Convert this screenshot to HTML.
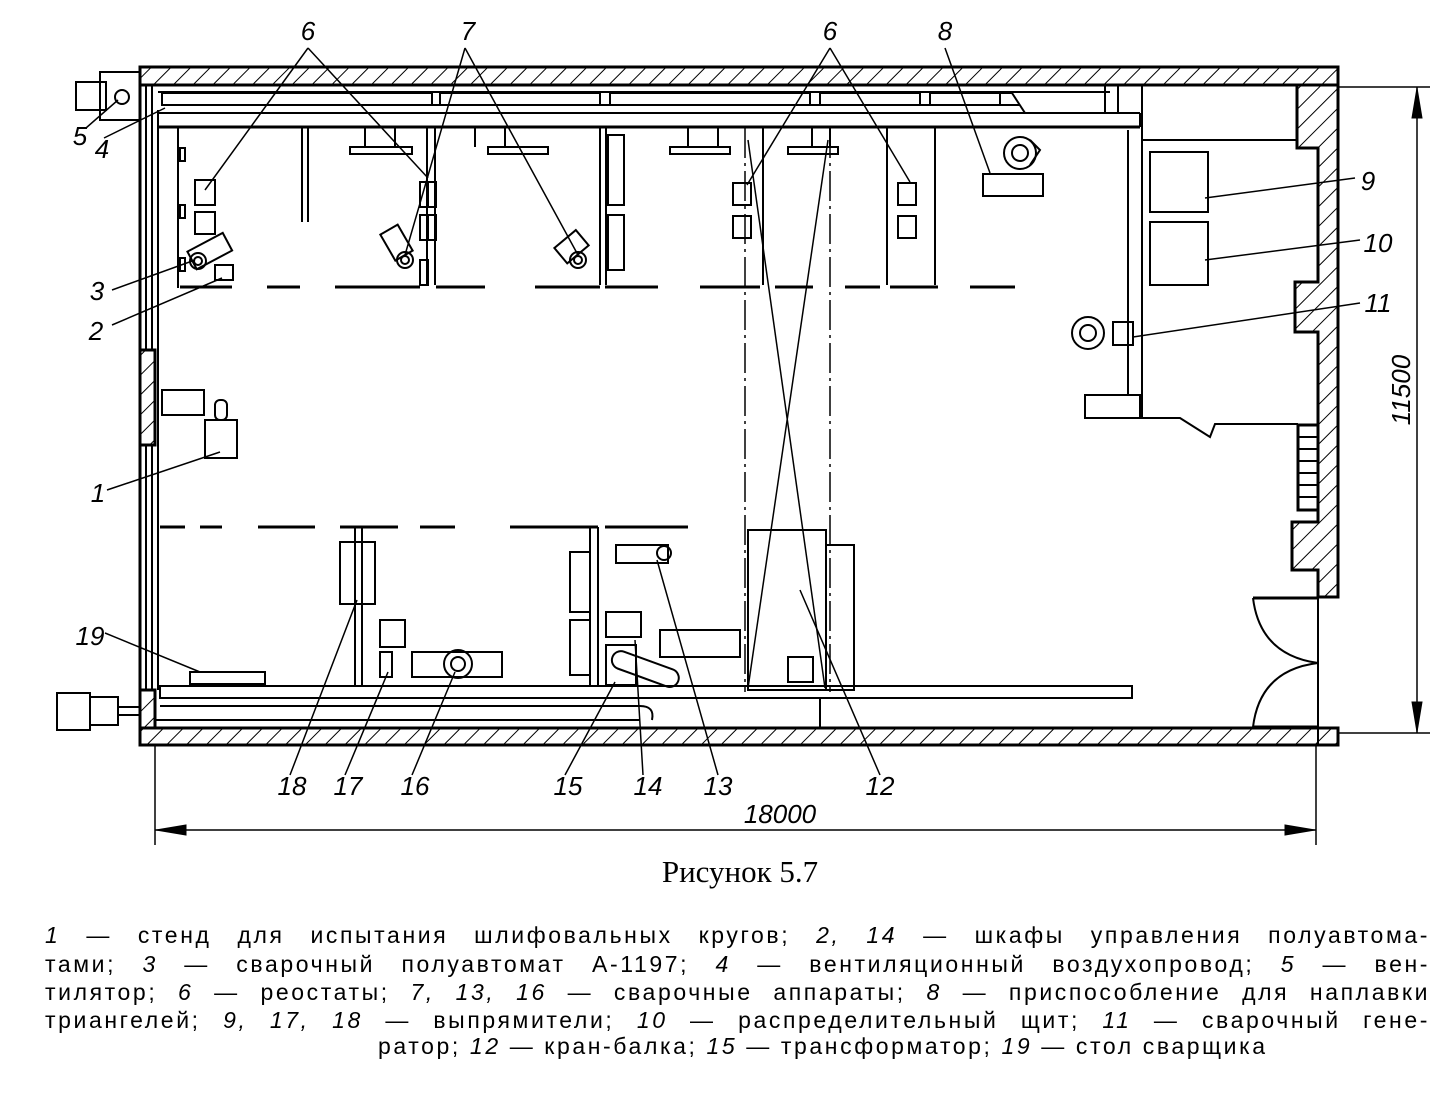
<!DOCTYPE html>
<html><head><meta charset="utf-8"><style>
html,body{margin:0;padding:0;background:#fff;}
body{width:1447px;height:1095px;position:relative;overflow:hidden;}
svg{position:absolute;left:0;top:0;}
.l{position:absolute;left:45px;width:1385px;font-family:"Liberation Sans",sans-serif;font-size:23px;letter-spacing:2.6px;line-height:26px;text-align:justify;text-align-last:justify;color:#000;white-space:nowrap;}
.l i{font-style:italic;}
.c{left:378px;width:870px;}
</style></head><body>
<svg width="1447" height="1095" viewBox="0 0 1447 1095">
<defs>
<pattern id="h" patternUnits="userSpaceOnUse" width="14" height="14" patternTransform="rotate(45)">
<rect width="14" height="14" fill="#fff"/><line x1="0" y1="0" x2="0" y2="14" stroke="#000" stroke-width="2"/>
</pattern>
</defs>
<g fill="none" stroke="#000" stroke-width="3">
<rect x="140" y="67" width="1198" height="18" fill="url(#h)"/>
<rect x="140" y="728" width="1198" height="17" fill="url(#h)"/>
<line x1="140" y1="67" x2="140" y2="745"/>
<line x1="146" y1="85" x2="146" y2="728" stroke-width="2"/>
<line x1="152" y1="85" x2="152" y2="728" stroke-width="2"/>
<line x1="158" y1="110" x2="158" y2="690" stroke-width="2"/>
<rect x="140" y="350" width="15" height="95" fill="url(#h)"/>
<rect x="140" y="690" width="15" height="38" fill="url(#h)"/>
<path d="M1297 85 H1338 V597 H1318 V570 H1292 V522 H1318 V332 H1295 V282 H1318 V148 H1297 Z" fill="url(#h)"/>
<rect x="1298" y="425" width="20" height="85" fill="#fff"/>
<g stroke-width="2"><line x1="1298" y1="437" x2="1318" y2="437"/><line x1="1298" y1="449" x2="1318" y2="449"/><line x1="1298" y1="461" x2="1318" y2="461"/><line x1="1298" y1="473" x2="1318" y2="473"/><line x1="1298" y1="485" x2="1318" y2="485"/><line x1="1298" y1="497" x2="1318" y2="497"/></g>
<line x1="1318" y1="597" x2="1318" y2="745" stroke-width="2"/>
<line x1="1253" y1="598" x2="1318" y2="598"/><line x1="1253" y1="727" x2="1318" y2="727"/>
<path d="M1253 598 Q1260 655 1318 663 Q1260 670 1253 727" stroke-width="2"/>
<path d="M158 92 H1110 M165 105 H1020" stroke-width="2"/>
<rect x="162" y="93" width="270" height="12" stroke-width="2"/>
<rect x="440" y="93" width="160" height="12" stroke-width="2"/>
<rect x="610" y="93" width="200" height="12" stroke-width="2"/>
<rect x="820" y="93" width="100" height="12" stroke-width="2"/>
<rect x="930" y="93" width="70" height="12" stroke-width="2"/>
<path d="M1000 93 L1012 93 L1025 113" stroke-width="2"/>
<line x1="158" y1="113" x2="1140" y2="113" stroke-width="2"/>
<line x1="158" y1="127" x2="1140" y2="127"/>
<line x1="1140" y1="113" x2="1140" y2="127" stroke-width="2"/>
<line x1="1105" y1="85" x2="1105" y2="113" stroke-width="2"/>
<line x1="1118" y1="85" x2="1118" y2="113" stroke-width="2"/>
<line x1="1128" y1="130" x2="1128" y2="395" stroke-width="2"/>
<line x1="1142" y1="85" x2="1142" y2="418" stroke-width="2"/>
<line x1="1142" y1="140" x2="1297" y2="140" stroke-width="2"/>
<path d="M1085 395 H1140 V418 H1085 Z" stroke-width="2"/>
<path d="M1140 418 H1180 L1210 437 L1215 424 H1298" stroke-width="2"/>
<rect x="1150" y="152" width="58" height="60" stroke-width="2"/>
<rect x="1150" y="222" width="58" height="63" stroke-width="2"/>
<circle cx="1088" cy="333" r="16" stroke-width="2"/><circle cx="1088" cy="333" r="8" stroke-width="2"/>
<rect x="1113" y="322" width="20" height="23" stroke-width="2"/>
<g stroke-width="2">
<line x1="178" y1="127" x2="178" y2="288"/>
<line x1="302" y1="127" x2="302" y2="222"/><line x1="308" y1="127" x2="308" y2="222"/>
<line x1="427" y1="127" x2="427" y2="285"/><line x1="435" y1="127" x2="435" y2="285"/>
<line x1="600" y1="127" x2="600" y2="285"/><line x1="606" y1="127" x2="606" y2="285"/>
<line x1="935" y1="127" x2="935" y2="285"/><line x1="887" y1="127" x2="887" y2="285"/>
<line x1="763" y1="127" x2="763" y2="285"/>
<rect x="608" y="135" width="16" height="70"/><rect x="608" y="215" width="16" height="55"/>
<rect x="420" y="182" width="8" height="25"/><rect x="428" y="182" width="8" height="25"/>
<rect x="420" y="215" width="8" height="25"/><rect x="428" y="215" width="8" height="25"/>
<rect x="420" y="260" width="8" height="25"/>
</g>
<path d="M180 287 H232 M267 287 H300 M335 287 H420 M436 287 H485 M535 287 H600 M605 287 H658 M700 287 H760 M775 287 H813 M845 287 H880 M890 287 H938 M970 287 H1015" />
<g stroke-width="2">
<rect x="180" y="148" width="5" height="13"/><rect x="180" y="205" width="5" height="13"/><rect x="180" y="258" width="5" height="13"/>
<rect x="195" y="180" width="20" height="25"/><rect x="195" y="212" width="20" height="22"/>
<rect x="215" y="265" width="18" height="15"/>
<g transform="rotate(-28 208 252)"><rect x="190" y="242" width="40" height="20"/></g>
<circle cx="198" cy="261" r="8"/><circle cx="198" cy="261" r="4"/>
<path d="M365 127 V147 M395 127 V147 M350 147 H412 V154 H350 Z"/>
<path d="M475 127 V147 M505 127 V147 M488 147 H548 V154 H488 Z"/>
<path d="M688 127 V147 M718 127 V147 M670 147 H730 V154 H670 Z"/>
<path d="M812 127 V147 M830 127 V147 M788 147 H838 V154 H788 Z"/>
<g transform="rotate(-30 395 240)"><rect x="385" y="228" width="20" height="30"/></g>
<circle cx="405" cy="260" r="8"/><circle cx="405" cy="260" r="4"/>
<g transform="rotate(-40 570 248)"><rect x="558" y="238" width="28" height="20"/></g>
<circle cx="578" cy="260" r="8"/><circle cx="578" cy="260" r="4"/>
<rect x="733" y="183" width="18" height="22"/><rect x="733" y="216" width="18" height="22"/>
<rect x="898" y="183" width="18" height="22"/><rect x="898" y="216" width="18" height="22"/>
<rect x="983" y="174" width="60" height="22"/>
<circle cx="1020" cy="153" r="16"/><circle cx="1020" cy="153" r="8"/>
<path d="M1030 140 L1040 150 L1030 165"/>
</g>
<g stroke-width="2">
<rect x="162" y="390" width="42" height="25"/>
<rect x="205" y="420" width="32" height="38"/>
<rect x="215" y="400" width="12" height="20" rx="5"/>
</g>
<g stroke-width="1.5">
<line x1="745" y1="128" x2="745" y2="692" stroke-dasharray="30 5 3 5"/>
<line x1="830" y1="128" x2="830" y2="692" stroke-dasharray="30 5 3 5"/>
<line x1="748" y1="140" x2="825" y2="688"/>
<line x1="828" y1="140" x2="748" y2="688"/>
</g>
<path d="M160 527 H185 M200 527 H222 M258 527 H315 M340 527 H398 M420 527 H455 M510 527 H598 M605 527 H688" />
<g stroke-width="2">
<line x1="355" y1="527" x2="355" y2="685"/><line x1="362" y1="527" x2="362" y2="685"/>
<rect x="340" y="542" width="35" height="62"/>
<rect x="380" y="620" width="25" height="27"/><rect x="380" y="652" width="12" height="25"/>
<rect x="412" y="652" width="90" height="25"/>
<circle cx="458" cy="664" r="14"/><circle cx="458" cy="664" r="7"/>
<rect x="190" y="672" width="75" height="12"/>
<line x1="590" y1="527" x2="590" y2="685"/><line x1="598" y1="527" x2="598" y2="685"/>
<rect x="570" y="552" width="20" height="60"/><rect x="570" y="620" width="20" height="55"/>
<rect x="616" y="545" width="52" height="18"/><circle cx="664" cy="553" r="7"/>
<rect x="606" y="612" width="35" height="25"/>
<rect x="606" y="645" width="30" height="40"/>
<rect x="660" y="630" width="80" height="27"/>
<g transform="rotate(20 645 670)"><rect x="610" y="660" width="70" height="18" rx="9"/></g>
<rect x="748" y="530" width="78" height="160"/>
<rect x="826" y="545" width="28" height="145"/>
<rect x="788" y="657" width="25" height="25"/>
</g>
<rect x="160" y="686" width="972" height="12" stroke-width="2"/>
<line x1="160" y1="706" x2="640" y2="706" stroke-width="2"/>
<line x1="155" y1="720" x2="640" y2="720" stroke-width="2"/>
<path d="M640 706 Q655 706 652 720" stroke-width="2"/>
<line x1="820" y1="698" x2="820" y2="728" stroke-width="2"/>
<rect x="100" y="72" width="40" height="48" stroke-width="2"/>
<rect x="76" y="82" width="30" height="28" stroke-width="2"/>
<circle cx="122" cy="97" r="7" stroke-width="2"/>
<rect x="57" y="693" width="33" height="37" stroke-width="2"/>
<rect x="90" y="697" width="28" height="28" stroke-width="2"/>
<rect x="118" y="707" width="22" height="8" stroke-width="2"/>
<g stroke-width="1.5">
<line x1="1338" y1="87" x2="1430" y2="87"/>
<line x1="1338" y1="733" x2="1430" y2="733"/>
<line x1="1417" y1="87" x2="1417" y2="733"/>
<line x1="155" y1="745" x2="155" y2="845"/>
<line x1="1316" y1="745" x2="1316" y2="845"/>
<line x1="155" y1="830" x2="1316" y2="830"/>
</g>
<path d="M1417 88 L1412 118 L1422 118 Z M1417 732 L1412 702 L1422 702 Z M156 830 L186 825 L186 835 Z M1315 830 L1285 825 L1285 835 Z" fill="#000" stroke-width="1"/>
<g stroke-width="1.5">
<path d="M308 48 L205 190 M308 48 L428 178"/>
<path d="M465 48 L405 255 M465 48 L578 255"/>
<path d="M830 48 L747 185 M830 48 L910 182"/>
<path d="M945 48 L990 173"/>
<path d="M86 128 L118 100 M104 138 L165 108 M112 290 L195 260 M112 325 L222 278 M107 490 L220 452 M105 633 L200 672"/>
<path d="M1205 198 L1355 178 M1205 260 L1360 240 M1133 337 L1360 303"/>
<path d="M290 775 L357 600 M345 775 L388 672 M412 775 L455 672 M565 775 L615 682 M643 775 L635 640 M718 775 L657 560 M880 775 L800 590"/>
</g>
</g>
<g font-family="Liberation Sans, sans-serif" font-style="italic" font-size="26" fill="#000" text-anchor="middle">
<text x="308" y="40">6</text><text x="468" y="40">7</text><text x="830" y="40">6</text><text x="945" y="40">8</text>
<text x="80" y="145">5</text><text x="102" y="158">4</text><text x="97" y="300">3</text><text x="96" y="340">2</text>
<text x="98" y="502">1</text><text x="90" y="645">19</text>
<text x="1368" y="190">9</text><text x="1378" y="252">10</text><text x="1378" y="312">11</text>
<text x="292" y="795">18</text><text x="348" y="795">17</text><text x="415" y="795">16</text><text x="568" y="795">15</text><text x="648" y="795">14</text><text x="718" y="795">13</text><text x="880" y="795">12</text>
<text x="780" y="823">18000</text>
<text transform="translate(1410 390) rotate(-90)">11500</text>
</g>
<text x="740" y="882" font-family="Liberation Serif, serif" font-size="31" text-anchor="middle">Рисунок 5.7</text>
</svg>
<div class="l" style="top:922px"><i>1</i> — стенд для испытания шлифовальных кругов; <i>2, 14</i> — шкафы управления полуавтома-</div>
<div class="l" style="top:951px">тами; <i>3</i> — сварочный полуавтомат А-1197; <i>4</i> — вентиляционный воздухопровод; <i>5</i> — вен-</div>
<div class="l" style="top:979px">тилятор; <i>6</i> — реостаты; <i>7, 13, 16</i> — сварочные аппараты; <i>8</i> — приспособление для наплавки</div>
<div class="l" style="top:1007px">триангелей; <i>9, 17, 18</i> — выпрямители; <i>10</i> — распределительный щит; <i>11</i> — сварочный гене-</div>
<div class="l c" style="top:1033px">ратор; <i>12</i> — кран-балка; <i>15</i> — трансформатор; <i>19</i> — стол сварщика</div>
</body></html>
